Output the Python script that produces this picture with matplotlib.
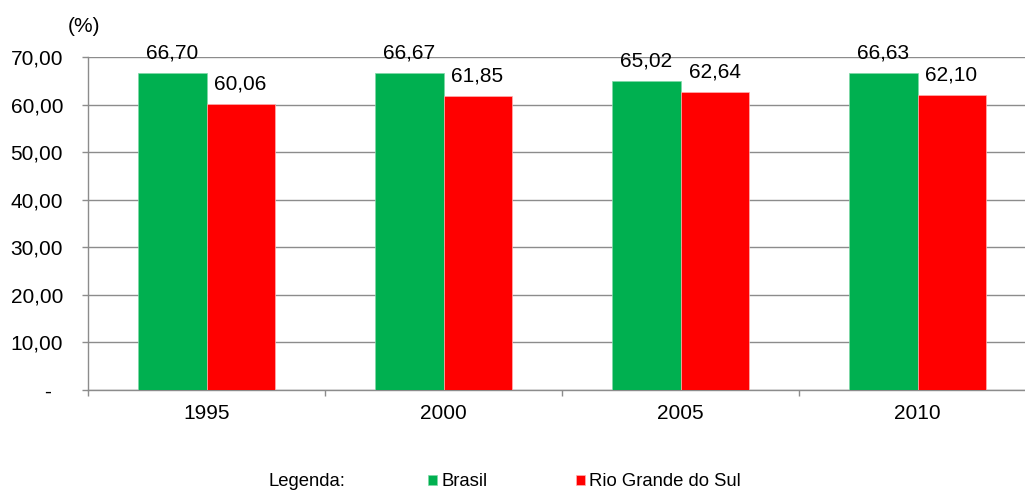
import matplotlib
matplotlib.use("Agg")
import matplotlib.pyplot as plt
import numpy as np

plt.rcParams['font.family'] = ['Liberation Sans', 'DejaVu Sans']

years = ["1995", "2000", "2005", "2010"]
brasil = [66.70, 66.67, 65.02, 66.63]
rs = [60.06, 61.85, 62.64, 62.10]
series_names = ["Brasil", "Rio Grande do Sul"]
colors = ["#00B050", "#FF0000"]
yticks = [0, 10, 20, 30, 40, 50, 60, 70]

def fmt(v):
    return f"{v:.2f}".replace(".", ",")

W, H = 1025, 492
fig = plt.figure(figsize=(W / 100, H / 100), dpi=100)
ax = fig.add_axes([88 / W, 1 - 390 / H, (W - 88) / W, (390 - 57) / H])

x = np.arange(len(years))
bw = 0.287
b1 = ax.bar(x - bw / 2, brasil, bw, color=colors[0], edgecolor="#7fd8a7", linewidth=0.5, zorder=3)
b2 = ax.bar(x + bw / 2, rs, bw, color=colors[1], edgecolor="#ffb0b0", linewidth=0.5, zorder=3)

for bars, vals in ((b1, brasil), (b2, rs)):
    for rect, v in zip(bars, vals):
        ax.annotate(fmt(v), (rect.get_x() + rect.get_width() / 2, v),
                    xytext=(0, 10.4), textcoords="offset points",
                    ha="center", va="baseline", fontsize=15, color="black")

ax.set_ylim(0, 70)
ax.set_xlim(-0.5, 3.5 - 11 / 237)
ax.set_yticks(yticks)
ax.set_yticklabels(["-  "] + [fmt(v) for v in yticks[1:]])
ax.yaxis.grid(True, color="#8c8c8c", linewidth=1.0, zorder=0)
ax.set_axisbelow(True)

ax.set_xticks(np.arange(-0.5, 3.5, 1.0))
ax.set_xticklabels([])
ax.set_xticks(x, minor=True)
ax.set_xticklabels(years, minor=True)
ax.tick_params(axis="x", which="major", direction="out", length=4.3, color="#8c8c8c", width=1)
ax.tick_params(axis="x", which="minor", length=0, pad=10, labelsize=15)
ax.tick_params(axis="y", direction="out", length=4.3, color="#8c8c8c", width=1, pad=13.7, labelsize=15)

for s in ("top", "right"):
    ax.spines[s].set_visible(False)
for s in ("left", "bottom"):
    ax.spines[s].set_color("#8c8c8c")
    ax.spines[s].set_linewidth(1)

fig.text(84 / W, 1 - 26 / H, "(%)", ha="center", va="center", fontsize=15)

fig.text(268 / W, 1 - 482 / H, "Legenda:", ha="left", va="center", fontsize=13.3)
fig.legend([b1, b2], series_names, ncol=2, loc="center left",
           bbox_to_anchor=(428 / W, 1 - 482 / H), frameon=False, fontsize=13.3,
           handlelength=0.49, handleheight=0.49, handletextpad=0.22,
           columnspacing=4.8, borderpad=0, borderaxespad=0)

fig.savefig("out.png", dpi=100)
